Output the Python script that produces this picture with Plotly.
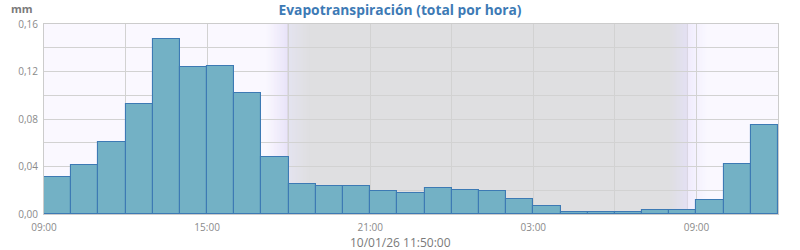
import plotly.graph_objects as go
import pandas as pd

# ---- data ----
start_time = "2026-01-09 09:00"
end_time = "2026-01-10 12:00"
evapo_mm = [0.031, 0.041, 0.061, 0.093, 0.147, 0.124, 0.125, 0.102, 0.048,
            0.025, 0.024, 0.024, 0.019, 0.018, 0.022, 0.020, 0.019, 0.013,
            0.007, 0.002, 0.002, 0.002, 0.003, 0.003, 0.012, 0.042, 0.075]
hours = pd.date_range(start_time, periods=len(evapo_mm), freq="h")
bar_centers = hours + pd.Timedelta(minutes=30)

title_text = "Evapotranspiración (total por hora)"
unit_text = "mm"
stamp_text = "10/01/26 11:50:00"

# day / night background colour stops (time, rgb)
DAY = (250, 248, 255)
NIGHT = (223, 223, 225)
bg_stops = [
    ("2026-01-09 09:00", DAY),
    ("2026-01-09 17:10", DAY),
    ("2026-01-09 17:59", (232, 227, 248)),
    ("2026-01-09 18:01", (228, 227, 239)),
    ("2026-01-09 18:45", NIGHT),
    ("2026-01-10 08:00", NIGHT),
    ("2026-01-10 08:39", (227, 224, 243)),
    ("2026-01-10 08:41", (240, 236, 252)),
    ("2026-01-10 09:00", (244, 241, 254)),
    ("2026-01-10 09:25", DAY),
    ("2026-01-10 12:00", DAY),
]
twilight_lines = ["2026-01-09 17:58", "2026-01-10 08:40"]

fig = go.Figure()
fig.add_trace(go.Bar(
    x=bar_centers, y=evapo_mm, width=3600 * 1000,
    marker=dict(color="#73b1c5", line=dict(color="#3d7ab4", width=1.1)),
    hoverinfo="x+y",
))

# background gradient strips (each slightly overlapping the next to avoid seams)
shapes = []
step = pd.Timedelta(minutes=3)
for (t0, c0), (t1, c1) in zip(bg_stops[:-1], bg_stops[1:]):
    t0, t1 = pd.Timestamp(t0), pd.Timestamp(t1)
    if c0 == c1:
        shapes.append(dict(type="rect", xref="x", yref="paper", x0=t0, x1=t1 + step, y0=0, y1=1,
                           fillcolor="rgb(%d,%d,%d)" % c0, line_width=0, layer="below"))
        continue
    n = max(1, int((t1 - t0) / step))
    for i in range(n):
        a = t0 + (t1 - t0) * i / n
        b = t0 + (t1 - t0) * (i + 1) / n + step
        f = (i + 0.5) / n
        c = tuple(round(c0[k] + (c1[k] - c0[k]) * f) for k in range(3))
        shapes.append(dict(type="rect", xref="x", yref="paper", x0=a, x1=b, y0=0, y1=1,
                           fillcolor="rgb(%d,%d,%d)" % c, line_width=0, layer="below"))
for t in twilight_lines:
    shapes.append(dict(type="line", xref="x", yref="paper", x0=t, x1=t, y0=0, y1=1,
                       line=dict(color="#d8d4e0", width=1), layer="below"))

fig.update_layout(
    width=800, height=250,
    margin=dict(l=44, r=22, t=24, b=36),
    paper_bgcolor="white",
    plot_bgcolor="rgb(250,248,255)",
    separators=",.",
    bargap=0,
    showlegend=False,
    shapes=shapes,
    font=dict(family="Open Sans", color="#8a8a8a", size=10),
    title=dict(text="<b>" + title_text + "</b>", x=0.5, xanchor="center",
               y=0.96, yanchor="middle", yref="container",
               font=dict(family="Open Sans", size=13.8, color="#3d7ab5")),
    xaxis=dict(
        type="date",
        range=[pd.Timestamp(start_time), pd.Timestamp(end_time)],
        tick0=pd.Timestamp(start_time), dtick=6 * 3600 * 1000,
        tickformat="%H:%M",
        showgrid=True, gridcolor="#d2d2d2", gridwidth=1,
        minor=dict(dtick=3 * 3600 * 1000, tick0=pd.Timestamp(start_time),
                   showgrid=True, gridcolor="#d2d2d2", gridwidth=1),
        showline=True, mirror=True, linecolor="#cccccc", linewidth=1,
        ticks="outside", ticklen=4, tickcolor="rgba(0,0,0,0)", zeroline=False,
        tickfont=dict(size=10, color="#8a8a8a"),
    ),
    yaxis=dict(
        range=[0, 0.16], dtick=0.04, tick0=0, tickformat=".2f",
        showgrid=True, gridcolor="#d2d2d2", gridwidth=1,
        minor=dict(dtick=0.02, showgrid=True, gridcolor="#d2d2d2", gridwidth=1),
        showline=True, mirror=True, linecolor="#cccccc", linewidth=1,
        ticks="outside", ticklen=3, tickcolor="rgba(0,0,0,0)", zeroline=False,
        tickfont=dict(size=10, color="#8a8a8a"),
    ),
    annotations=[
        dict(text="<b>" + unit_text + "</b>", xref="paper", yref="paper",
             x=(22 - 44) / 734, y=1 + (24 - 9) / 190, xanchor="center", yanchor="middle",
             showarrow=False, font=dict(family="Open Sans", size=11, color="#7a7a7a")),
        dict(text=stamp_text, xref="paper", yref="paper",
             x=(400 - 44) / 734, y=-(242 - 214) / 190, xanchor="center", yanchor="middle",
             showarrow=False, font=dict(family="Open Sans", size=12, color="#7a7a7a")),
    ],
)

fig.write_html("out.html")
